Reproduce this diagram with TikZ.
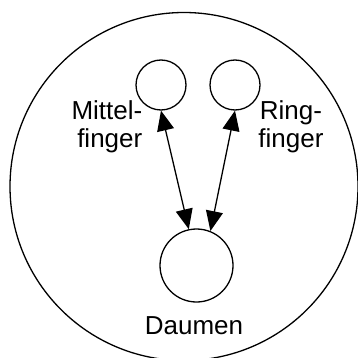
\documentclass[tikz,border=0pt]{standalone}
\usepackage{fontspec}
\setmainfont{Liberation Sans}
\usetikzlibrary{arrows.meta}
\begin{document}
\begin{tikzpicture}[x=1pt,y=-1pt,
  ring/.style={circle,draw,line width=1.3pt,inner sep=0pt},
  lbl/.style={inner sep=0pt,font=\fontsize{26pt}{28pt}\selectfont},
  link/.style={line width=1.3pt,{Triangle[length=20pt,width=17pt]}-{Triangle[length=20pt,width=17pt]}}]
\useasboundingbox (0,0) rectangle (358,358);
\node[ring,minimum size=348pt] (hand) at (184,186.5) {};
\node[ring,minimum size=50pt] (m) at (161,85) {};
\node[ring,minimum size=50pt] (r) at (235,85) {};
\node[ring,minimum size=73pt] (d) at (196.5,265.5) {};
\node[lbl,align=right,anchor=base east] (ml) at (142.5,147) {Mittel-\\finger};
\node[lbl,align=center,anchor=base] (rl) at (291,147) {Ring-\\finger};
\node[lbl,anchor=base] (dl) at (194,334) {Daumen};
\draw[link] (m.south) -- (d.102);
\draw[link] (r.south) -- (d.68);
\end{tikzpicture}
\end{document}
